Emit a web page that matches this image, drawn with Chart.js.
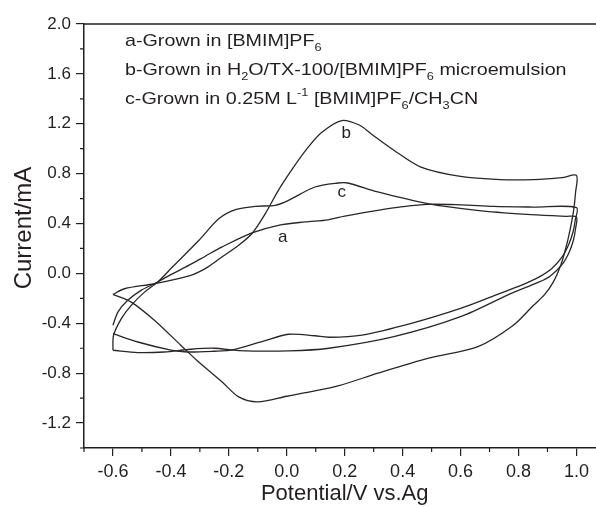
<!DOCTYPE html>
<html>
<head>
<meta charset="utf-8">
<script src="https://cdn.jsdelivr.net/npm/chart.js@4/dist/chart.umd.min.js"></script>
<style>
html, body { margin: 0; padding: 0; overflow: hidden; background: #fff; }
canvas { display: block; }
</style>
</head>
<body>
<canvas id="myChart" width="620" height="507"></canvas>
<script>
// curve a : forward sweep then return sweep
const aPotential = [-0.6, -0.583, -0.549, -0.503, -0.457, -0.40, -0.337, -0.28, -0.223, -0.12, -0.029, 0.063, 0.143, 0.2, 0.314, 0.4, 0.486, 0.6, 0.714, 0.85, 1.0,
  0.996, 0.988, 0.973, 0.95, 0.915, 0.87, 0.815, 0.714, 0.6, 0.43, 0.26, 0.145, 0.097, 0.006, -0.086, -0.188, -0.251, -0.343, -0.4, -0.514, -0.6];
const aCurrent = [-0.416, -0.31, -0.216, -0.136, -0.083, -0.01, 0.066, 0.14, 0.213, 0.325, 0.386, 0.413, 0.43, 0.46, 0.506, 0.535, 0.554, 0.55, 0.538, 0.532, 0.528,
  0.43, 0.33, 0.23, 0.13, 0.04, -0.03, -0.09, -0.18, -0.28, -0.40, -0.494, -0.512, -0.50, -0.488, -0.547, -0.613, -0.624, -0.63, -0.615, -0.55, -0.483];

// curve b
const bPotential = [-0.6, -0.56, -0.457, -0.337, -0.28, -0.223, -0.166, -0.12, -0.074, -0.029, 0.02, 0.07, 0.12, 0.19, 0.25, 0.291, 0.371, 0.463, 0.6, 0.737, 0.851, 0.95, 1.0,
  0.997, 0.99, 0.978, 0.963, 0.945, 0.92, 0.89, 0.85, 0.78, 0.66, 0.49, 0.315, 0.18, 0.08, 0.0, -0.1, -0.166, -0.223, -0.309, -0.366, -0.457, -0.537, -0.6];
const bCurrent = [-0.168, -0.123, -0.083, -0.02, 0.04, 0.133, 0.226, 0.32, 0.48, 0.666, 0.84, 1.0, 1.13, 1.226, 1.19, 1.12, 0.986, 0.853, 0.778, 0.752, 0.752, 0.768, 0.786,
  0.65, 0.5, 0.35, 0.2, 0.06, -0.07, -0.17, -0.26, -0.42, -0.587, -0.68, -0.80, -0.90, -0.95, -0.985, -1.03, -0.99, -0.87, -0.70, -0.576, -0.376, -0.23, -0.168];

// curve c
const cPotential = [-0.6, -0.598, -0.571, -0.537, -0.491, -0.446, -0.394, -0.303, -0.234, -0.177, -0.108, -0.04, 0.006, 0.097, 0.177, 0.211, 0.314, 0.486, 0.657, 0.828, 0.965, 1.0,
  0.997, 0.99, 0.975, 0.95, 0.91, 0.87, 0.775, 0.6, 0.37, 0.145, 0.006, -0.166, -0.25, -0.331, -0.423, -0.514, -0.6];
const cCurrent = [-0.616, -0.496, -0.363, -0.256, -0.15, -0.07, 0.053, 0.266, 0.44, 0.512, 0.538, 0.546, 0.586, 0.693, 0.725, 0.725, 0.653, 0.56, 0.506, 0.474, 0.458, 0.453,
  0.36, 0.27, 0.17, 0.07, -0.02, -0.07, -0.16, -0.347, -0.507, -0.60, -0.621, -0.619, -0.60, -0.608, -0.63, -0.635, -0.616];

const xMajorTicks = [-0.6, -0.4, -0.2, 0.0, 0.2, 0.4, 0.6, 0.8, 1.0];
const xMinorTicks = [-0.7, -0.5, -0.3, -0.1, 0.1, 0.3, 0.5, 0.7, 0.9, 1.1];
const yMajorTicks = [-1.2, -0.8, -0.4, 0.0, 0.4, 0.8, 1.2, 1.6, 2.0];
const yMinorTicks = [-1.4, -1.0, -0.6, -0.2, 0.2, 0.6, 1.0, 1.4, 1.8];

const curveLabels = ['a', 'b', 'c'];
const curveLabelX = [-0.014, 0.205, 0.19];
const curveLabelY = [0.293, 1.12, 0.653];

const yTitle = 'Current/mA';

// legend lines: [text, 0 normal / -1 subscript / 1 superscript]
const noteLines = [
  [['a-Grown in [BMIM]PF', 0], ['6', -1]],
  [['b-Grown in H', 0], ['2', -1], ['O/TX-100/[BMIM]PF', 0], ['6', -1], [' microemulsion', 0]],
  [['c-Grown in 0.25M L', 0], ['-1', 1], [' [BMIM]PF', 0], ['6', -1], ['/CH', 0], ['3', -1], ['CN', 0]]
];

const INK = '#231f20';
const FONT = "'Liberation Sans', Arial, sans-serif";
Chart.defaults.font.family = FONT;
Chart.defaults.color = INK;

function toPoints(xs, ys) {
  return xs.map((x, i) => ({x: x, y: ys[i]}));
}

function loop(xs, ys) {
  return {
    data: toPoints(xs, ys),
    showLine: true,
    borderColor: '#2a2627',
    borderWidth: 1.3,
    pointRadius: 0,
    tension: 0.3,
    fill: false
  };
}

const extras = {
  id: 'extras',
  afterDraw(chart) {
    const ctx = chart.ctx;
    const xs = chart.scales.x, ys = chart.scales.y;
    const area = chart.chartArea;
    ctx.save();
    ctx.strokeStyle = INK;
    ctx.lineWidth = 1.5;
    // top + right frame
    ctx.beginPath();
    ctx.moveTo(area.left, area.top);
    ctx.lineTo(area.right, area.top);
    ctx.lineTo(area.right, area.bottom);
    ctx.stroke();
    // minor ticks
    ctx.lineWidth = 1.2;
    ctx.beginPath();
    xMinorTicks.forEach(v => {
      const px = xs.getPixelForValue(v);
      ctx.moveTo(px, area.bottom);
      ctx.lineTo(px, area.bottom + 4);
    });
    yMinorTicks.forEach(v => {
      const py = ys.getPixelForValue(v);
      ctx.moveTo(area.left, py);
      ctx.lineTo(area.left - 4, py);
    });
    ctx.stroke();
    ctx.fillStyle = INK;
    // y axis title
    ctx.save();
    ctx.translate(24, 228);
    ctx.rotate(-Math.PI / 2);
    ctx.font = '24px ' + FONT;
    ctx.textAlign = 'center';
    ctx.textBaseline = 'middle';
    ctx.fillText(yTitle, 0, 0);
    ctx.restore();
    // curve labels
    ctx.font = '17px ' + FONT;
    ctx.textAlign = 'center';
    ctx.textBaseline = 'middle';
    curveLabels.forEach((t, i) => {
      ctx.fillText(t, xs.getPixelForValue(curveLabelX[i]), ys.getPixelForValue(curveLabelY[i]));
    });
    // legend text, slightly wide like the original
    ctx.textAlign = 'left';
    ctx.textBaseline = 'alphabetic';
    ctx.translate(125, 0);
    ctx.scale(1.16, 1);
    noteLines.forEach((line, i) => {
      let x = 0;
      const base = 46 + i * 29;
      line.forEach(([t, kind]) => {
        if (kind === 0) {
          ctx.font = '17px ' + FONT;
          ctx.fillText(t, x, base);
        } else {
          ctx.font = '11px ' + FONT;
          ctx.fillText(t, x, kind < 0 ? base + 5 : base - 8);
        }
        x += ctx.measureText(t).width;
      });
    });
    ctx.restore();
  }
};

const config = {
  type: 'scatter',
  data: {
    datasets: [loop(aPotential, aCurrent), loop(bPotential, bCurrent), loop(cPotential, cCurrent)]
  },
  options: {
    responsive: false,
    animation: false,
    layout: { padding: { left: 0, top: 24, right: 14.6, bottom: 0 } },
    plugins: { legend: { display: false }, tooltip: { enabled: false } },
    scales: {
      x: {
        type: 'linear',
        min: -0.7,
        max: 1.1,
        afterBuildTicks: scale => { scale.ticks = xMajorTicks.map(v => ({value: v})); },
        afterFit: scale => { scale.height = 59; },
        ticks: { callback: v => v.toFixed(1), font: { size: 18 }, color: INK, padding: 5, maxRotation: 0 },
        grid: { drawOnChartArea: false, drawTicks: true, tickLength: 8, color: INK, lineWidth: 1.2 },
        border: { display: true, color: INK, width: 1.5 },
        title: { display: true, text: 'Potential/V vs.Ag', font: { size: 22 }, color: INK, padding: { top: 0, bottom: 0 } }
      },
      y: {
        type: 'linear',
        min: -1.4,
        max: 2.0,
        afterBuildTicks: scale => { scale.ticks = yMajorTicks.map(v => ({value: v})); },
        afterFit: scale => { scale.width = 84; },
        ticks: { callback: v => v.toFixed(1), font: { size: 17 }, color: INK, padding: 5 },
        grid: { drawOnChartArea: false, drawTicks: true, tickLength: 8, color: INK, lineWidth: 1.2 },
        border: { display: true, color: INK, width: 1.5 },
        title: { display: false }
      }
    }
  },
  plugins: [extras]
};

const myChart = new Chart(document.getElementById('myChart'), config);
</script>
</body>
</html>
